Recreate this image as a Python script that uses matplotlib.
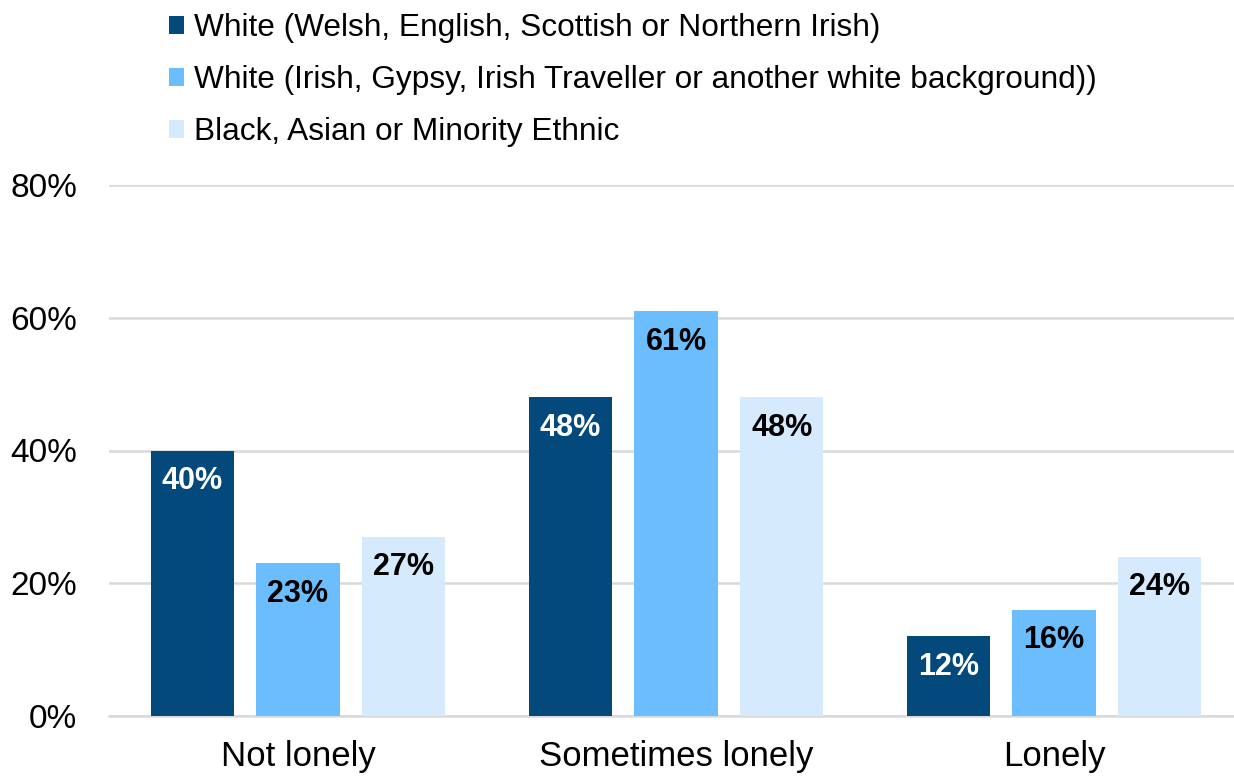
import numpy as np
import matplotlib.pyplot as plt
from matplotlib.patches import Patch

plt.rcParams['font.family'] = ['Liberation Sans', 'DejaVu Sans']

# loneliness by ethnic group (%)
categories = ["Not lonely", "Sometimes lonely", "Lonely"]
groups = [
    "White (Welsh, English, Scottish or Northern Irish)",
    "White (Irish, Gypsy, Irish Traveller or another white background))",
    "Black, Asian or Minority Ethnic",
]
white_uk = [40, 48, 12]
white_other = [23, 61, 16]
bame = [27, 48, 24]

colors = ["#03497c", "#6bbdfd", "#d5eafd"]
label_colors = ["white", "black", "black"]

fig = plt.figure(figsize=(12.34, 7.76), dpi=100)
ax = fig.add_axes([109 / 1234, 60 / 776, 1134 / 1234, 531 / 776])

x = np.arange(len(categories))
width = 0.22
offset = 0.28
for i, (vals, c, lc) in enumerate(zip([white_uk, white_other, bame], colors, label_colors)):
    bars = ax.bar(x + (i - 1) * offset, vals, width, color=c, zorder=3)
    for b, v in zip(bars, vals):
        ax.annotate(f"{v}%", (b.get_x() + b.get_width() / 2, v),
                    xytext=(0, -22), textcoords="offset points",
                    ha="center", va="center", fontsize=22,
                    fontweight="bold", color=lc, zorder=4)

ax.set_xlim(-0.5, 2.5)
ax.set_ylim(0, 80)
ax.set_yticks([0, 20, 40, 60, 80])
ax.set_yticklabels(["0%", "20%", "40%", "60%", "80%"])
ax.set_xticks(x)
ax.set_xticklabels(categories)
ax.tick_params(axis="y", length=0, labelsize=24, colors="black", pad=23)
ax.tick_params(axis="x", length=0, labelsize=25, colors="black", pad=17)
ax.grid(axis="y", color="#d9d9d9", linewidth=1.8, zorder=0)
for s in ["top", "right", "left"]:
    ax.spines[s].set_visible(False)
ax.spines["bottom"].set_color("#d9d9d9")
ax.spines["bottom"].set_linewidth(1.8)

handles = [Patch(facecolor=c, edgecolor="none") for c in colors]
fig.legend(handles, groups, loc="upper left", bbox_to_anchor=(156 / 1234, 0.999),
           frameon=False, fontsize=22.8, handlelength=0.5, handleheight=0.5,
           handletextpad=0.3, labelspacing=0.69, borderaxespad=0.0)

fig.savefig("out.png", dpi=100)
